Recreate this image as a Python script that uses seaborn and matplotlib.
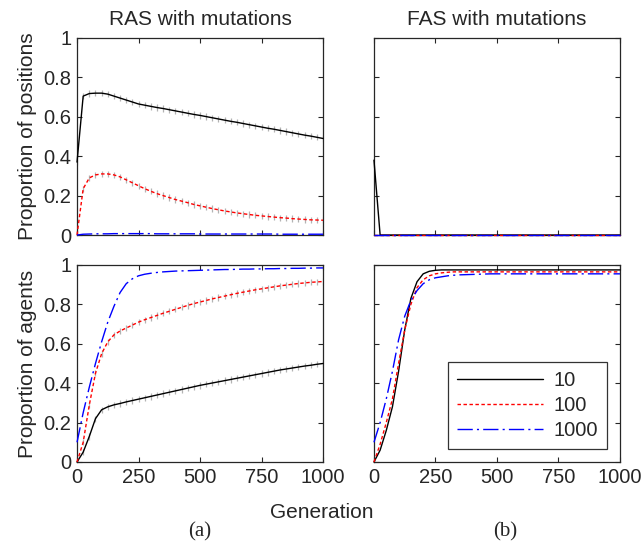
import numpy as np
import pandas as pd
import seaborn as sns
import matplotlib
matplotlib.use("Agg")
import matplotlib.pyplot as plt

# generation grid (every 25 generations)
gen = np.arange(0, 1001, 25)
sizes = ["10", "100", "1000"]

# RAS with mutations - proportion of positions
ras_pos_10 = [0.37, 0.705, 0.718, 0.72, 0.72, 0.715, 0.705, 0.695, 0.685, 0.675,
              0.665, 0.659, 0.653, 0.647, 0.642, 0.636, 0.630, 0.624, 0.618, 0.612,
              0.607, 0.601, 0.595, 0.589, 0.583, 0.577, 0.572, 0.566, 0.560, 0.554,
              0.548, 0.542, 0.537, 0.531, 0.525, 0.519, 0.513, 0.507, 0.502, 0.496, 0.49]
ras_pos_100 = [0.0, 0.235, 0.29, 0.305, 0.31, 0.31, 0.305, 0.295, 0.28, 0.265,
               0.25, 0.235, 0.222, 0.21, 0.20, 0.19, 0.18, 0.172, 0.164, 0.155,
               0.148, 0.141, 0.134, 0.128, 0.122, 0.117, 0.112, 0.108, 0.104, 0.10,
               0.097, 0.094, 0.091, 0.088, 0.086, 0.083, 0.081, 0.079, 0.077, 0.076, 0.075]
ras_pos_1000 = [0.0, 0.004, 0.005, 0.006, 0.006, 0.006, 0.007, 0.007, 0.007, 0.007,
                0.007, 0.007, 0.007, 0.006, 0.006, 0.006, 0.006, 0.006, 0.006, 0.006,
                0.005, 0.005, 0.005, 0.005, 0.005, 0.005, 0.005, 0.005, 0.005, 0.005,
                0.005, 0.005, 0.005, 0.004, 0.004, 0.004, 0.004, 0.004, 0.004, 0.004, 0.004]

# FAS with mutations - proportion of positions
fas_pos_10 = [0.38] + [0.0] * 40
fas_pos_100 = [0.0] * 41
fas_pos_1000 = [0.0] * 41

# RAS with mutations - proportion of agents
ras_ag_10 = [0.0, 0.05, 0.13, 0.22, 0.265, 0.28, 0.29, 0.297, 0.305, 0.312,
             0.319, 0.326, 0.333, 0.34, 0.347, 0.354, 0.361, 0.368, 0.375, 0.382,
             0.389, 0.395, 0.401, 0.407, 0.413, 0.419, 0.425, 0.431, 0.437, 0.443,
             0.449, 0.455, 0.461, 0.467, 0.472, 0.477, 0.482, 0.487, 0.491, 0.496, 0.50]
ras_ag_100 = [0.0, 0.1, 0.29, 0.45, 0.55, 0.61, 0.645, 0.665, 0.68, 0.695,
              0.71, 0.722, 0.733, 0.744, 0.755, 0.765, 0.775, 0.785, 0.795, 0.804,
              0.812, 0.82, 0.828, 0.835, 0.842, 0.849, 0.856, 0.862, 0.868, 0.874,
              0.879, 0.884, 0.889, 0.894, 0.898, 0.902, 0.906, 0.909, 0.912, 0.914, 0.916]
ras_ag_1000 = [0.10, 0.25, 0.38, 0.50, 0.61, 0.71, 0.79, 0.86, 0.905, 0.93,
               0.945, 0.953, 0.958, 0.962, 0.965, 0.967, 0.969, 0.97, 0.971, 0.972,
               0.973, 0.974, 0.975, 0.976, 0.977, 0.977, 0.978, 0.979, 0.979, 0.98,
               0.98, 0.981, 0.981, 0.982, 0.982, 0.983, 0.983, 0.984, 0.984, 0.985, 0.985]

# FAS with mutations - proportion of agents
fas_ag_10 = [0.0, 0.06, 0.16, 0.28, 0.46, 0.67, 0.83, 0.915, 0.955, 0.968,
             0.973] + [0.975] * 30
fas_ag_100 = [0.0, 0.09, 0.2, 0.32, 0.5, 0.67, 0.8, 0.885, 0.925, 0.945,
              0.955, 0.96, 0.963] + [0.965] * 28
fas_ag_1000 = [0.10, 0.2, 0.32, 0.46, 0.62, 0.74, 0.82, 0.87, 0.905, 0.925,
               0.935, 0.94, 0.945, 0.948, 0.95, 0.951, 0.952, 0.953, 0.954] + [0.955] * 22

sns.set_style("ticks")
plt.rcParams['font.family'] = ['Liberation Sans', 'DejaVu Sans']

colors = ["black", "red", "blue"]
styles = ["-", (0, (2.5, 1.8)), (0, (11, 3, 1.5, 3))]

fig = plt.figure(figsize=(6.44, 5.45), dpi=100)
axes = {
    "tl": fig.add_axes([0.1196, 0.5688, 0.382, 0.3615]),
    "tr": fig.add_axes([0.5807, 0.5688, 0.382, 0.3615]),
    "bl": fig.add_axes([0.1196, 0.1523, 0.382, 0.3615]),
    "br": fig.add_axes([0.5807, 0.1523, 0.382, 0.3615]),
}
panels = {
    "tl": [ras_pos_10, ras_pos_100, ras_pos_1000],
    "tr": [fas_pos_10, fas_pos_100, fas_pos_1000],
    "bl": [ras_ag_10, ras_ag_100, ras_ag_1000],
    "br": [fas_ag_10, fas_ag_100, fas_ag_1000],
}

for key, ax in axes.items():
    for i, y in enumerate(panels[key]):
        if key in ("tl", "bl") and i < 2:
            # gray error bars on the RAS runs
            ax.errorbar(gen, y, yerr=0.016, fmt="none", ecolor="0.7",
                        elinewidth=0.9, zorder=1)
        sns.lineplot(x=gen, y=y, ax=ax, color=colors[i], linestyle=styles[i],
                     linewidth=1.0, label=sizes[i], legend=False, clip_on=False,
                     zorder=3)
    ax.set_xlim(0, 1000)
    ax.set_ylim(0, 1)
    ax.set_xticks([0, 250, 500, 750, 1000])
    ax.set_yticks([0, 0.2, 0.4, 0.6, 0.8, 1])
    ax.set_yticklabels(["0", "0.2", "0.4", "0.6", "0.8", "1"])
    ax.tick_params(direction="in", top=True, right=True, length=3.5,
                   width=0.8, labelsize=14.5, pad=4)
    for s in ax.spines.values():
        s.set_linewidth(0.9)
    ax.set_xlabel("")
    ax.set_ylabel("")
    if key in ("tl", "tr"):
        ax.set_xticklabels([])
    if key in ("tr", "br"):
        ax.set_yticklabels([])

axes["tl"].set_title("RAS with mutations", fontsize=15, pad=9)
axes["tr"].set_title("FAS with mutations", fontsize=15, pad=9)
axes["tl"].set_ylabel("Proportion of positions", fontsize=15, labelpad=5)
axes["bl"].set_ylabel("Proportion of agents", fontsize=15, labelpad=5)

leg = axes["br"].legend(loc="lower right", bbox_to_anchor=(0.947, 0.066),
                        borderaxespad=0, fontsize=14.5, handlelength=4.3,
                        handletextpad=0.5, frameon=True, fancybox=False,
                        borderpad=0.45, labelspacing=0.3)
leg.get_frame().set_edgecolor("black")
leg.get_frame().set_linewidth(0.9)

fig.text(0.5, 0.06, "Generation", ha="center", va="center", fontsize=15)
fig.text(0.31, 0.024, "(a)", ha="center", va="center", fontsize=15,
         family="Liberation Serif")
fig.text(0.785, 0.024, "(b)", ha="center", va="center", fontsize=15,
         family="Liberation Serif")

fig.savefig("out.png", dpi=100)
